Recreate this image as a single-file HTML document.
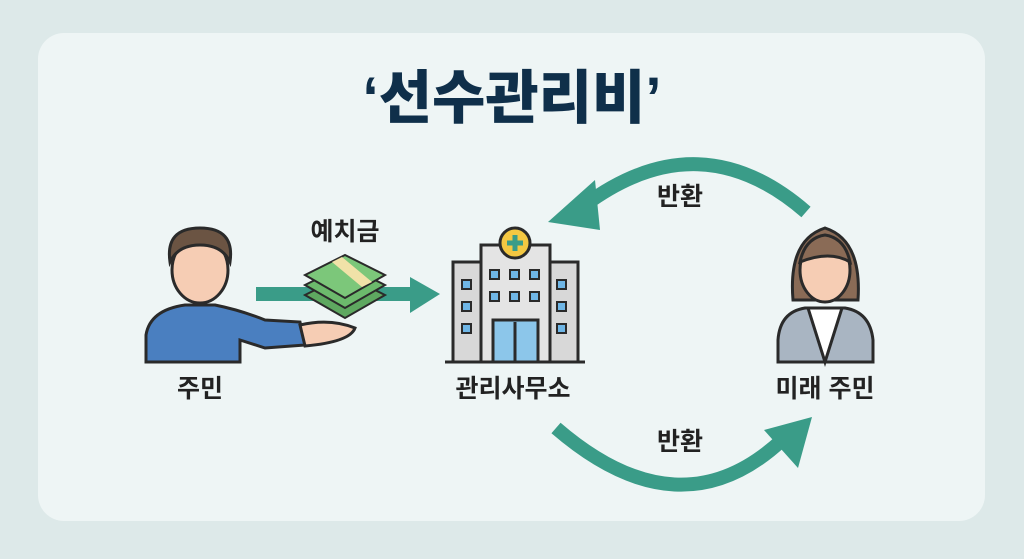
<!DOCTYPE html>
<html><head><meta charset="utf-8"><style>
html,body{margin:0;padding:0;background:#dde9e9;}
svg{display:block}
text{font-family:"Liberation Sans","Noto Sans CJK KR",sans-serif;}
</style></head><body>
<svg width="1024" height="559" viewBox="0 0 1024 559" xmlns="http://www.w3.org/2000/svg">
<rect width="1024" height="559" fill="#dde9e9"/>
<rect x="38" y="33" width="947" height="488" rx="26" fill="#eef5f5"/>
<text x="512" y="118" text-anchor="middle" font-size="58" font-weight="900" fill="#0f2f4a">‘선수관리비’</text>

<!-- arrows -->
<g fill="none" stroke="#3a9c88" stroke-width="14">
<path d="M806 212 Q700 120 585 205"/>
<path d="M556 428 Q680 535 782 440"/>
<path d="M256 294 H410"/>
</g>
<polygon points="548,222 595,180 600,230" fill="#3a9c88"/>
<polygon points="812,417 764,430 798,468" fill="#3a9c88"/>
<polygon points="410,277 440,294 410,313" fill="#3a9c88"/>

<!-- labels -->
<g font-size="25" font-weight="700" fill="#222">
<text x="345" y="240" text-anchor="middle">예치금</text>
<text x="200" y="397" text-anchor="middle">주민</text>
<text x="513" y="397" text-anchor="middle">관리사무소</text>
<text x="825" y="397" text-anchor="middle">미래 주민</text>
<text x="680" y="205" text-anchor="middle">반환</text>
<text x="680" y="450" text-anchor="middle">반환</text>
</g>

<!-- man -->
<g stroke="#2a2a2a" stroke-width="3">
<path d="M146 362 V335 Q150 310 185 305 H215 Q240 310 265 320 L300 322 L305 345 L265 348 L240 340 V362 Z" fill="#4a7fc0"/>
<path d="M300 325 Q330 318 355 328 Q350 342 305 346 Z" fill="#f6cdb4"/>
<ellipse cx="200" cy="270" rx="28" ry="33" fill="#f6cdb4"/>
<path d="M170 262 Q165 228 200 228 Q235 228 230 262 Q222 245 200 245 Q178 245 170 262 Z" fill="#6b5443"/>
</g>
<!-- money -->
<g stroke="#2a2a2a" stroke-width="2">
<polygon points="305,295 345,275 385,295 345,318" fill="#5ea860"/>
<polygon points="305,285 345,265 385,285 345,308" fill="#6cba6c"/>
<polygon points="305,275 345,255 385,275 345,298" fill="#7cc77a"/>
<polygon points="332,262 342,257 372,282 362,287" fill="#f1e2a8" stroke="none"/>
</g>
<!-- building -->
<g stroke="#2a2a2a" stroke-width="3">
<rect x="453" y="262" width="30" height="100" fill="#d8d8d8"/>
<rect x="548" y="262" width="30" height="100" fill="#d8d8d8"/>
<rect x="481" y="245" width="69" height="117" fill="#e4e4e4"/>
<circle cx="515" cy="243" r="15" fill="#f4c842"/>
<path d="M515 235 V251 M507 243 H523" stroke="#3a9c88" stroke-width="5"/>
<rect x="493" y="320" width="45" height="42" fill="#8cc6ea"/>
<line x1="515" y1="322" x2="515" y2="362"/>
<line x1="445" y1="362" x2="585" y2="362"/>
</g>
<g fill="#6fb6e6" stroke="#2a2a2a" stroke-width="2">
<rect x="490" y="270" width="9" height="9"/><rect x="510" y="270" width="9" height="9"/><rect x="530" y="270" width="9" height="9"/>
<rect x="490" y="292" width="9" height="9"/><rect x="510" y="292" width="9" height="9"/><rect x="530" y="292" width="9" height="9"/>
<rect x="462" y="280" width="9" height="9"/><rect x="462" y="302" width="9" height="9"/><rect x="462" y="324" width="9" height="9"/>
<rect x="557" y="280" width="9" height="9"/><rect x="557" y="302" width="9" height="9"/><rect x="557" y="324" width="9" height="9"/>
</g>
<!-- woman -->
<g stroke="#2a2a2a" stroke-width="3">
<path d="M793 300 Q788 240 825 228 Q862 240 858 300 Z" fill="#8a6b56"/>
<path d="M778 362 V340 Q780 312 805 308 H845 Q870 312 873 340 V362 Z" fill="#a9b5c2"/>
<path d="M808 308 L825 362 L842 308 Z" fill="#fff"/>
<ellipse cx="825" cy="270" rx="25" ry="32" fill="#f6cdb4"/>
<path d="M800 262 Q805 238 825 235 Q845 238 850 262 Q830 250 800 262 Z" fill="#8a6b56"/>
</g>
</svg>
</body></html>
